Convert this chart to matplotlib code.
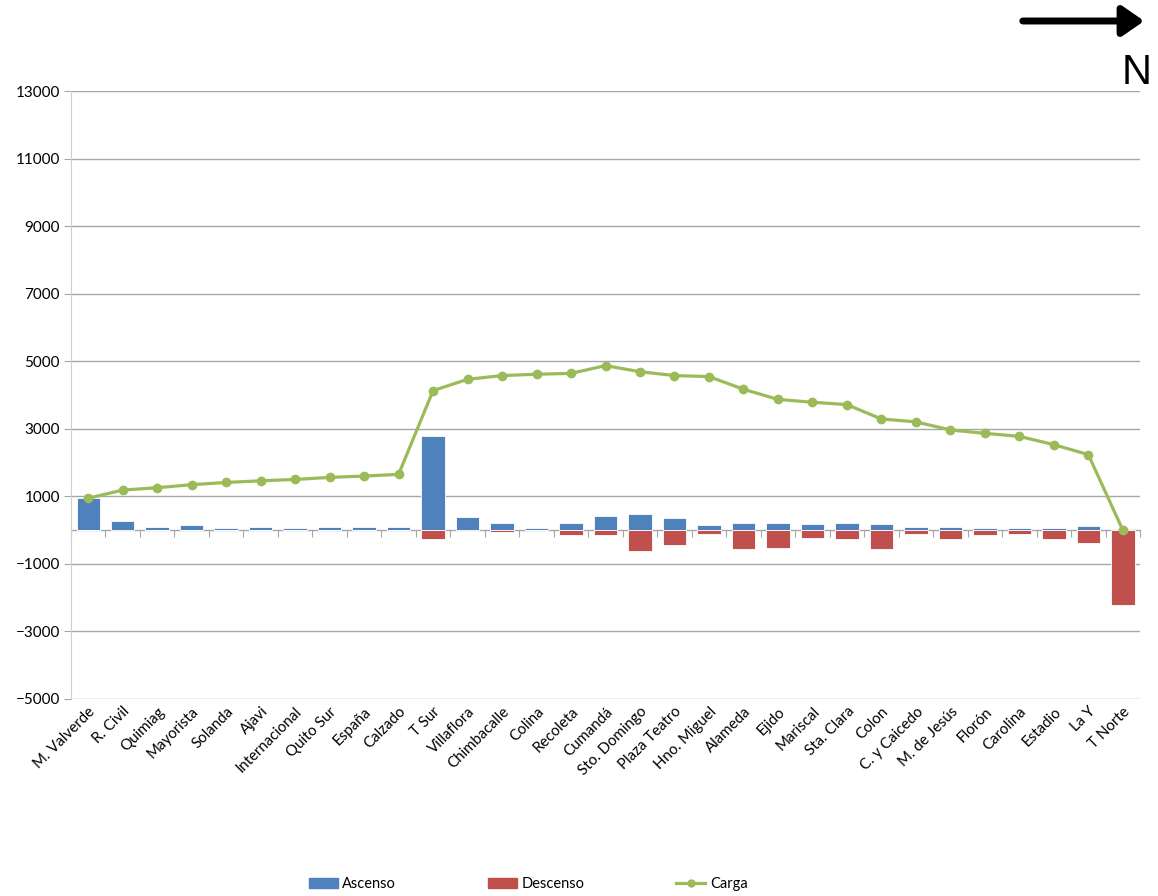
import matplotlib
matplotlib.use("Agg")
import matplotlib.pyplot as plt
from matplotlib.patches import Patch, FancyArrowPatch
from matplotlib.lines import Line2D

plt.rcParams['font.family'] = ['Lato', 'DejaVu Sans']

paradas = ['M. Valverde', 'R. Civil', 'Quimiag', 'Mayorista', 'Solanda', 'Ajavi',
           'Internacional', 'Quito Sur', 'España', 'Calzado', 'T Sur', 'Villaflora',
           'Chimbacalle', 'Colina', 'Recoleta', 'Cumandá', 'Sto. Domingo',
           'Plaza Teatro', 'Hno. Miguel', 'Alameda', 'Ejido', 'Mariscal', 'Sta. Clara',
           'Colon', 'C. y Caicedo', 'M. de Jesús', 'Florón', 'Carolina', 'Estadio',
           'La Y', 'T Norte']
ascenso = [940, 280, 90, 160, 60, 90, 60, 90, 90, 90, 2780, 385, 200, 70, 220, 405,
           485, 355, 140, 220, 220, 190, 220, 190, 90, 90, 60, 60, 60, 110, 0]
descenso = [0, -30, 0, 0, 0, 0, 0, 0, 0, 0, -275, -40, -70, 0, -155, -155, -625,
            -455, -130, -570, -525, -235, -255, -570, -130, -275, -155, -130, -275,
            -375, -2210]
carga = [945, 1185, 1255, 1345, 1410, 1460, 1500, 1560, 1600, 1650, 4130, 4465,
         4575, 4615, 4640, 4870, 4690, 4575, 4545, 4170, 3870, 3785, 3715, 3290,
         3205, 2965, 2865, 2775, 2530, 2235, 0]

azul = '#4F81BD'
rojo = '#C0504D'
verde = '#9BBB59'

fig = plt.figure(figsize=(11.58, 8.96), dpi=100)
ax = fig.add_axes([0.0613, 0.2199, 0.9232, 0.6785])

x = list(range(len(paradas)))
ax.bar(x, ascenso, width=0.68, color=azul, edgecolor='white', linewidth=0.6, zorder=2)
ax.bar(x, descenso, width=0.68, color=rojo, edgecolor='white', linewidth=0.6, zorder=2)
ax.plot(x, carga, color=verde, linewidth=2.3, marker='o', markersize=6, zorder=4)

ax.set_xlim(-0.5, len(paradas) - 0.5)
ax.set_ylim(-5000, 13000)
ax.set_yticks(range(-5000, 13001, 2000))
ax.yaxis.grid(True, color='#A6A6A6', linewidth=1)
ax.set_axisbelow(True)
for s in ['top', 'right', 'bottom']:
    ax.spines[s].set_visible(False)
ax.spines['left'].set_color('#D0D0D0')
ax.tick_params(axis='y', length=5, color='#A6A6A6', labelsize=11, pad=3)

ax.set_xticks(x)
ax.set_xticklabels(paradas, rotation=45, ha='right', rotation_mode='anchor', fontsize=10.8)
ax.tick_params(axis='x', length=0, pad=4)

# eje de categorías en cero
sec = ax.secondary_xaxis(0, transform=ax.transData)
sec.set_xticks([i - 0.5 for i in range(len(paradas) + 1)])
sec.tick_params(axis='x', length=5, color='#A6A6A6', labelbottom=False)
sec.spines['bottom'].set_color('#A6A6A6')
sec.spines['bottom'].set_linewidth(1)

handles = [Patch(color=azul, label='Ascenso'),
           Patch(color=rojo, label='Descenso'),
           Line2D([], [], color=verde, linewidth=2.3, marker='o', markersize=5, label='Carga')]
fig.legend(handles=handles, loc='center', bbox_to_anchor=(0.456, 0.0134), ncol=3,
           frameon=False, fontsize=10.5, handlelength=2.0, handleheight=0.7,
           handletextpad=0.3, columnspacing=6.3)

# flecha de orientación
fig.patches.append(FancyArrowPatch(
    (1020 / 1158, 1 - 21 / 896), (1147 / 1158, 1 - 21 / 896),
    transform=fig.transFigure, arrowstyle='-|>,head_length=13,head_width=9',
    mutation_scale=1, linewidth=5, color='black'))
fig.text(1137 / 1158, 1 - 73 / 896, 'N', fontsize=30, ha='center', va='center',
         family=['Liberation Sans', 'DejaVu Sans'])

fig.savefig('out.png', dpi=100)
